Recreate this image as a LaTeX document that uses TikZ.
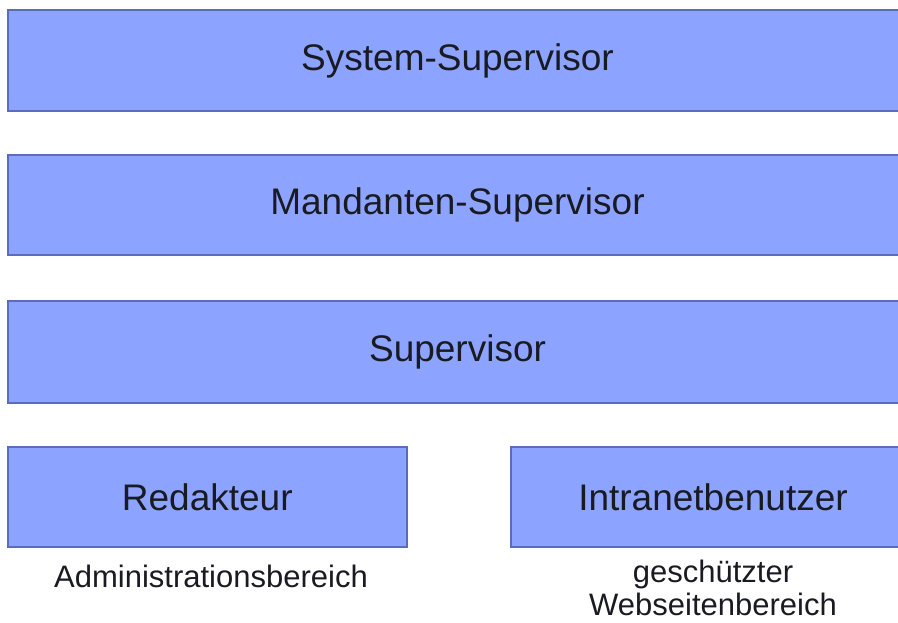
\documentclass[tikz,border=0pt]{standalone}
\usepackage{fontspec}
\setmainfont{Liberation Sans}
\definecolor{boxfill}{HTML}{8CA3FF}
\definecolor{boxline}{HTML}{5C6CBC}
\definecolor{txt}{HTML}{1A1A22}
\begin{document}
\begin{tikzpicture}[x=1pt,y=1pt,
  lvl/.style={draw=boxline,fill=boxfill,line width=2pt,rectangle,inner sep=0pt,
    text=txt,font=\fontsize{37}{44}\selectfont},
  note/.style={text=txt,font=\fontsize{31}{33}\selectfont,align=center,inner sep=0pt}]
\useasboundingbox (0,0) rectangle (898,-622);
\clip (0,0) rectangle (898,-622);
\node[lvl,minimum width=900,minimum height=101] (sys) at (457.5,-60.5) {System-Supervisor};
\node[lvl,minimum width=900,minimum height=100] (man) at (457.5,-205) {Mandanten-Supervisor};
\node[lvl,minimum width=900,minimum height=102] (sup) at (457.5,-352) {Supervisor};
\node[lvl,minimum width=399.5,minimum height=100] (red) at (207.25,-497) {Redakteur};
\node[lvl,minimum width=404,minimum height=100] (intra) at (713,-497) {Intranetbenutzer};
\node[note] (adm) at (211,-576) {Administrationsbereich};
\node[note] (web) at (713,-588) {geschützter\\Webseitenbereich};
\end{tikzpicture}
\end{document}
